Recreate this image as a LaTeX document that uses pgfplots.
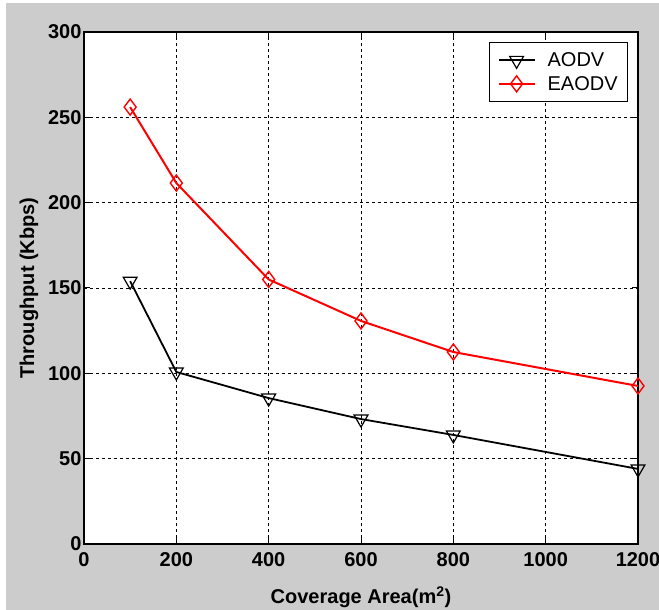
\documentclass[border=0pt]{standalone}
\usepackage{fontspec}
\setmainfont{Liberation Sans}
\usepackage{pgfplots}
\pgfplotsset{compat=1.18}
\definecolor{bg}{HTML}{CCCCCC}
\begin{document}
\begin{tikzpicture}[x=1pt,y=1pt]
\fill[white] (-84,-66) rectangle (575,544);
\fill[bg] (-78,-66) rectangle (575,541);
\begin{axis}[at={(0,0)},anchor=south west, scale only axis, width=554pt, height=512pt,
  xmin=0,xmax=1200,ymin=0,ymax=300,
  xtick={0,200,...,1200}, ytick={0,50,...,300},
  axis background/.style={fill=white},
  grid=major, major grid style={black, dash pattern=on 3pt off 3pt, line width=0.8pt},
  axis line style={line width=1.8pt},
  tick style={black, line width=1pt}, tick align=inside, major tick length=6pt,
  ticklabel style={font=\fontsize{20}{24}\selectfont\bfseries},
  /pgf/number format/assume math mode=true,
  scaled ticks=false, xticklabel style={/pgf/number format/1000 sep={}, yshift=-5pt},
  yticklabel style={xshift=1pt},
  xlabel={Coverage Area(m\textsuperscript{2})},
  ylabel={Throughput (Kbps)},
  label style={font=\fontsize{20}{24}\selectfont\bfseries},
  xlabel style={at={(axis description cs:0.5,0)}, anchor=center, yshift=-53pt},
  ylabel style={at={(axis description cs:0,0.5)}, anchor=center, yshift=55pt},
  legend style={at={(rel axis cs:0.982,0.980)}, anchor=north east, draw=black, line width=0.8pt,
    font=\fontsize{20}{24}\selectfont, row sep=4pt, inner xsep=8pt, inner ysep=8pt},
  legend cell align=left,
  legend image code/.code={\draw[mark repeat=2,mark phase=2] plot coordinates {(0pt,0pt)(18pt,0pt)(36pt,0pt)}; \path (46pt,0pt);},
]
\addplot[black, line width=1.8pt, mark=triangle, mark options={solid, fill=white, line width=1.2pt, mark size=8pt, rotate=180}]
  coordinates {(100,154) (200,100.8) (400,85.5) (600,73.2) (800,63.9) (1200,44)};
\addlegendentry{AODV}
\addplot[red, line width=2pt, mark=diamond, mark options={solid, line width=1.4pt, mark size=8pt}]
  coordinates {(100,256) (200,211.5) (400,155) (600,130.7) (800,112.5) (1200,92.6)};
\addlegendentry{EAODV}
\end{axis}
\pgfresetboundingbox
\useasboundingbox (-84,-66) rectangle (575,544);
\end{tikzpicture}
\end{document}
